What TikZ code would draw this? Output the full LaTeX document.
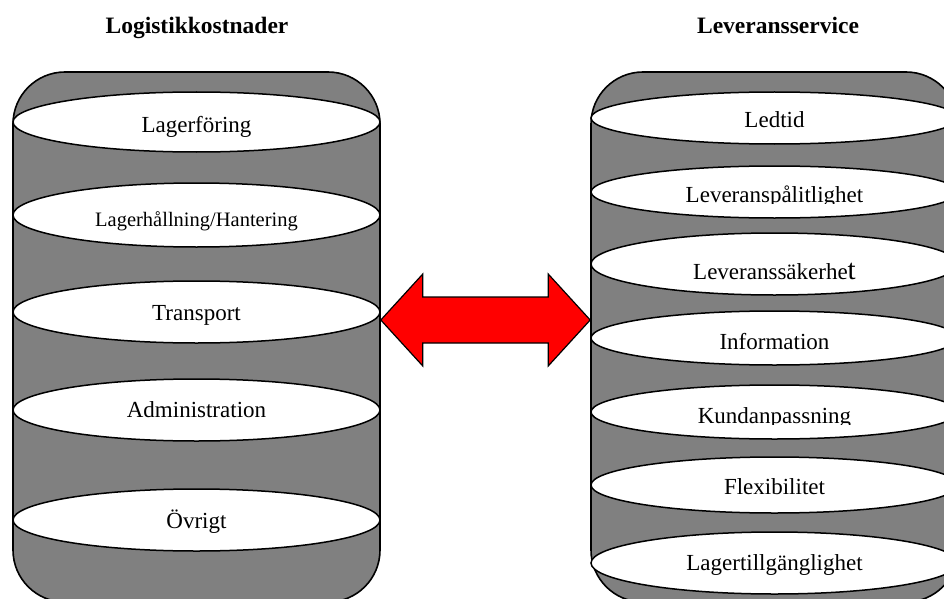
\documentclass[tikz,border=0pt]{standalone}
\usepackage{fontspec}
\setmainfont{Liberation Serif}
\usetikzlibrary{shapes.geometric,calc}
\definecolor{barrelgray}{HTML}{808080}
\begin{document}
\begin{tikzpicture}[x=1pt,y=-1pt,
  barrel/.style={draw=black, line width=1.6pt, fill=barrelgray,
    rounded corners=52pt, minimum width=367pt, minimum height=530pt,
    inner sep=0pt},
  disc/.style={ellipse, draw=black, line width=1.5pt, fill=white,
    minimum width=367pt, inner sep=0pt},
  lbl/.style={anchor=base, inner sep=0pt, font=\fontsize{23}{23}\selectfont},
  title/.style={anchor=base, inner sep=0pt, font=\bfseries\fontsize{23.5}{23.5}\selectfont},
  bigarrow/.style={draw=black, line width=1.2pt, fill=red, line join=miter}]
\useasboundingbox (0,0) rectangle (944,599);
\clip (0,0) rectangle (944,599);

% headings
\node[title] (tcost) at (197,34) {Logistikkostnader};
\node[title] (tserv) at (778,34) {Leveransservice};

% the two barrels
\node[barrel] (costs) at (196.5,337) {};
\node[barrel] (service) at (774.5,337) {};

% cost components
\node[disc, minimum height=60pt] (c1) at (196.5,122) {};
\node[disc, minimum height=64pt] (c2) at (196.5,215) {};
\node[disc, minimum height=62pt] (c3) at (196.5,312) {};
\node[disc, minimum height=62pt] (c4) at (196.5,410) {};
\node[disc, minimum height=62pt] (c5) at (196.5,520) {};

\node[lbl] (k1) at (c1.center |- 0,132) {Lagerföring};
\node[lbl, font=\fontsize{20.5}{20.5}\selectfont] (k2) at (c2.center |- 0,226) {Lagerhållning/Hantering};
\node[lbl] (k3) at (c3.center |- 0,320) {Transport};
\node[lbl] (k4) at (c4.center |- 0,417) {Administration};
\node[lbl] (k5) at (c5.center |- 0,528) {Övrigt};

% service components
\node[disc, minimum height=52pt] (s1) at (774.5,118) {};
\node[disc, minimum height=52pt] (s2) at (774.5,192) {};
\node[disc, minimum height=62pt] (s3) at (774.5,264) {};
\node[disc, minimum height=54pt] (s4) at (774.5,338) {};
\node[disc, minimum height=54pt] (s5) at (774.5,412) {};
\node[disc, minimum height=56pt] (s6) at (774.5,485) {};
\node[disc, minimum height=62pt] (s7) at (774.5,563) {};

\node[lbl] (l1) at (s1.center |- 0,128) {Ledtid};
\begin{scope}
  % descenders cut off at the baseline
  \clip ($(s2.center |- 0,202)+(-180,-25)$) rectangle ($(s2.center |- 0,202)+(180,1)$);
  \node[lbl] (l2) at (s2.center |- 0,202) {Leveranspålitlighet};
\end{scope}
\node[lbl] (l3) at (s3.center |- 0,279) {Leveranssäkerhe{\fontsize{29}{29}\selectfont t}};
\node[lbl] (l4) at (s4.center |- 0,349) {Information};
\begin{scope}
  \clip ($(s5.center |- 0,423)+(-180,-25)$) rectangle ($(s5.center |- 0,423)+(180,1)$);
  \node[lbl] (l5) at (s5.center |- 0,423) {Kundanpassning};
\end{scope}
\node[lbl] (l6) at (s6.center |- 0,494) {Flexibilitet};
\node[lbl] (l7) at (s7.center |- 0,570) {Lagertillgänglighet};

% two-way block arrow between the barrels
\coordinate (tipL) at (costs.east |- 0,320);
\coordinate (tipR) at (service.west |- 0,320);
\draw[bigarrow] (tipL) -- ($(tipL)+(42,-46)$) -- ($(tipL)+(42,-23)$)
  -- ($(tipR)+(-42,-23)$) -- ($(tipR)+(-42,-46)$) -- (tipR)
  -- ($(tipR)+(-42,46)$) -- ($(tipR)+(-42,23)$)
  -- ($(tipL)+(42,23)$) -- ($(tipL)+(42,46)$) -- cycle;
\end{tikzpicture}
\end{document}
